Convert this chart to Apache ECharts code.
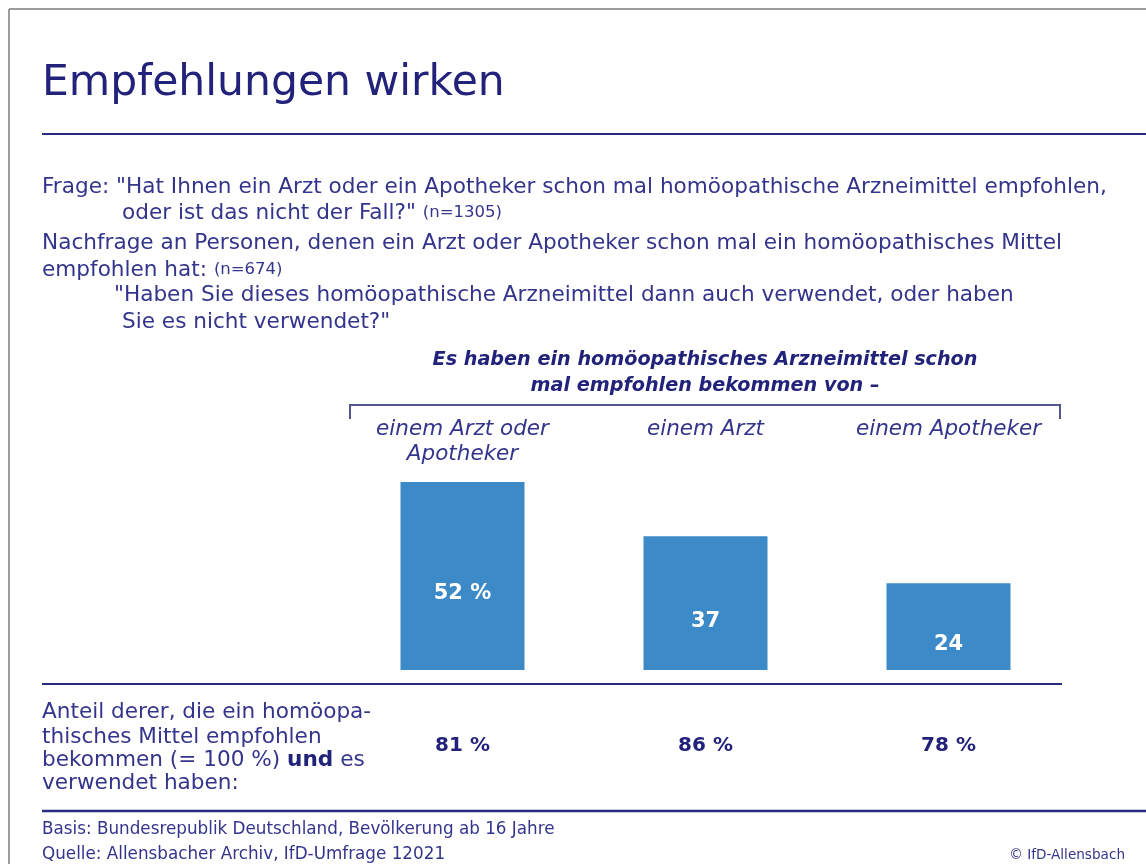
<!DOCTYPE html>
<html>
<head>
<meta charset="utf-8">
<script src="https://cdn.jsdelivr.net/npm/echarts@6/dist/echarts.min.js"></script>
<style>
html,body{margin:0;padding:0;background:#fff;}
#chart{width:1146px;height:864px;}
</style>
</head>
<body>
<div id="chart"></div>
<script>
// Data
var categories = ['einem Arzt oder\nApotheker', 'einem Arzt', 'einem Apotheker'];
var recommendedShare = [52, 37, 24];      // % who got a recommendation
var usedShare = [81, 86, 78];             // % of those who then used it
var valueSuffix = [' %', '', ''];

var NAVY = '#2a2a80';
var TEXT = '#34348c';
var FONT = 'DejaVu Sans';
var BODY = 21.6;

var chart = echarts.init(document.getElementById('chart'), null, {renderer: 'canvas'});

function txt(x, y, text, size, opts) {
  opts = opts || {};
  return {
    type: 'text', x: x, y: y, silent: true,
    style: {
      text: text, fill: opts.fill || TEXT,
      font: (opts.style || 'normal') + ' ' + (opts.weight || 'normal') + ' ' + size + 'px "' + FONT + '"',
      textAlign: opts.align || 'left', textVerticalAlign: 'middle'
    }
  };
}
function line(x1, y1, x2, y2, color, w) {
  return {type: 'line', silent: true, shape: {x1: x1, y1: y1, x2: x2, y2: y2},
          style: {stroke: color, lineWidth: w}};
}
function richTxt(x, y, text, rich) {
  return {type: 'text', x: x, y: y, silent: true,
          style: {text: text, textVerticalAlign: 'middle', rich: rich}};
}
var richBase = {
  a: {fontSize: BODY, fontFamily: FONT, fill: TEXT, color: TEXT},
  s: {fontSize: 16.5, fontFamily: FONT, fill: TEXT, color: TEXT},
  b: {fontSize: BODY, fontFamily: FONT, fontWeight: 'bold', fill: '#22227a', color: '#22227a'}
};

var graphics = [
  line(9, 9, 1146, 9, '#9c9c9c', 2),
  line(9, 9, 9, 864, '#9c9c9c', 2),
  txt(42, 84, 'Empfehlungen wirken', 42.5, {fill: '#22227a'}),
  line(42, 134, 1146, 134, NAVY, 2),
  txt(42, 187, 'Frage: "Hat Ihnen ein Arzt oder ein Apotheker schon mal homöopathische Arzneimittel empfohlen,', BODY),
  richTxt(122, 213, '{a|oder ist das nicht der Fall?" }{s|(n=1305)}', richBase),
  txt(42, 243, 'Nachfrage an Personen, denen ein Arzt oder Apotheker schon mal ein homöopathisches Mittel', BODY),
  richTxt(42, 270, '{a|empfohlen hat: }{s|(n=674)}', richBase),
  txt(114, 295, '"Haben Sie dieses homöopathische Arzneimittel dann auch verwendet, oder haben', BODY),
  txt(122, 322, 'Sie es nicht verwendet?"', BODY),
  txt(705, 360, 'Es haben ein homöopathisches Arzneimittel schon', 19.2, {style: 'italic', weight: 'bold', fill: '#22227a', align: 'center'}),
  txt(705, 386, 'mal empfohlen bekommen von –', 19.2, {style: 'italic', weight: 'bold', fill: '#22227a', align: 'center'}),
  {type: 'polyline', silent: true, shape: {points: [[350, 419], [350, 405], [1060, 405], [1060, 419]]},
   style: {stroke: '#55558f', lineWidth: 2, fill: null}},
  line(42, 684, 1062, 684, NAVY, 2),
  txt(42, 712, 'Anteil derer, die ein homöopa-', BODY),
  txt(42, 737, 'thisches Mittel empfohlen', BODY),
  richTxt(42, 760, '{a|bekommen (= 100 %) }{b|und}{a| es}', richBase),
  txt(42, 783, 'verwendet haben:', BODY),
  line(42, 811, 1146, 811, NAVY, 2.5),
  txt(42, 830, 'Basis: Bundesrepublik Deutschland, Bevölkerung ab 16 Jahre', 16.8),
  txt(42, 855, 'Quelle: Allensbacher Archiv, IfD-Umfrage 12021', 16.8),
  txt(1125, 855, '© IfD-Allensbach', 13.6, {align: 'right'})
];

var option = {
  backgroundColor: '#ffffff',
  animation: false,
  grid: {left: 341, width: 729, top: 453, bottom: 194, containLabel: false},
  xAxis: [
    {
      type: 'category', position: 'top', data: categories,
      axisLine: {show: false}, axisTick: {show: false},
      axisLabel: {
        color: TEXT, fontFamily: FONT, fontStyle: 'italic', fontSize: 21.5,
        lineHeight: 25, verticalAlign: 'top', margin: 36, interval: 0
      }
    },
    {
      type: 'category', position: 'bottom', data: categories,
      axisLine: {show: false}, axisTick: {show: false},
      axisLabel: {
        color: '#22227a', fontFamily: FONT, fontWeight: 'bold', fontSize: 20,
        verticalAlign: 'middle', margin: 76, interval: 0,
        formatter: function (v, i) { return usedShare[i] + ' %'; }
      }
    }
  ],
  yAxis: {type: 'value', min: 0, max: 60, show: false},
  series: [{
    type: 'bar', xAxisIndex: 0, data: recommendedShare, barWidth: 124,
    itemStyle: {color: '#3d8ac8'},
    label: {
      show: true, position: 'inside', offset: [0, 18],
      color: '#ffffff', fontFamily: FONT, fontWeight: 'bold', fontSize: 21,
      formatter: function (p) { return p.value + valueSuffix[p.dataIndex]; }
    }
  }],
  graphic: graphics
};
chart.setOption(option);
</script>
</body>
</html>
